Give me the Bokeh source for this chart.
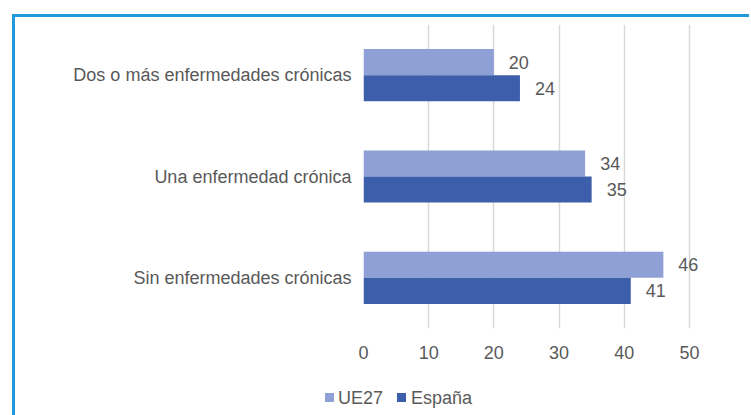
from bokeh.plotting import figure
from bokeh.models import ColumnDataSource, FactorRange, Range1d, FixedTicker, LabelSet, Div
from bokeh.layouts import column
from bokeh.transform import dodge
from bokeh.core.properties import value
from bokeh.embed import file_html
from bokeh.resources import INLINE

categories = ["Sin enfermedades crónicas", "Una enfermedad crónica", "Dos o más enfermedades crónicas"]
ue27 = [46, 34, 20]
espana = [41, 35, 24]
x_ticks = [0, 10, 20, 30, 40, 50]
series_names = ["UE27", "España"]

FONT = "Liberation Sans"
FS = "18px"
TXT = "#595959"
C_UE = "#8EA0D5"
C_ES = "#3D5EAA"
colors = [C_UE, C_ES]

src = ColumnDataSource(dict(cat=categories, ue27=ue27, espana=espana,
                            ue27_t=[str(v) for v in ue27], espana_t=[str(v) for v in espana]))

W = 734
p = figure(width=W, height=351, output_backend="svg", toolbar_location=None,
           y_range=FactorRange(factors=categories, range_padding=0),
           x_range=Range1d(0, 54),
           min_border_left=348, min_border_top=7, min_border_bottom=40, min_border_right=34)
p.outline_line_color = None

bh = 0.257
p.hbar(y=dodge("cat", 0.1285, range=p.y_range), right="ue27", height=bh, left=0,
       source=src, color=C_UE, line_color=None)
p.hbar(y=dodge("cat", -0.1285, range=p.y_range), right="espana", height=bh, left=0,
       source=src, color=C_ES, line_color=None)

for col, off in (("ue27", 0.1285), ("espana", -0.1285)):
    p.add_layout(LabelSet(x=col, y=dodge("cat", off, range=p.y_range), text=col + "_t",
                          source=src, x_offset=15, text_baseline="middle",
                          text_font=value(FONT), text_font_size=value(FS), text_color=TXT))

p.xaxis.ticker = FixedTicker(ticks=x_ticks)
for ax in (p.xaxis[0], p.yaxis[0]):
    ax.axis_line_color = None
    ax.major_tick_line_color = None
    ax.minor_tick_line_color = None
    ax.major_label_text_font = FONT
    ax.major_label_text_font_size = FS
    ax.major_label_text_color = TXT
p.xaxis.major_label_standoff = 11
p.yaxis.major_label_standoff = 6

p.xgrid.grid_line_color = "#d9d9d9"
p.xgrid.grid_line_width = 1.5
p.ygrid.grid_line_color = None

# legend strip (HTML)
sq_left = [310, 382]
tx_left = [323, 396]
parts = []
for name, c, sl, tl in zip(series_names, colors, sq_left, tx_left):
    parts.append(f'<span style="position:absolute;left:{sl}px;top:25px;width:9px;height:9px;background:{c};"></span>')
    parts.append(f'<span style="position:absolute;left:{tl}px;top:20px;line-height:20px;white-space:nowrap;">{name}</span>')
html = (f'<div style="position:relative;width:{W}px;height:47px;font-family:\'{FONT}\';'
        f'font-size:{FS};color:{TXT};">' + "".join(parts) + "</div>")
leg = Div(text=html, width=W, height=47, margin=0)

lay = column(p, leg, spacing=0)
lay.margin = (14, 0, 0, 12)
lay.styles = {"border-top": "3px solid #1F98DC", "border-left": "3px solid #1F98DC"}

open("out.html", "w").write(file_html(lay, INLINE))
